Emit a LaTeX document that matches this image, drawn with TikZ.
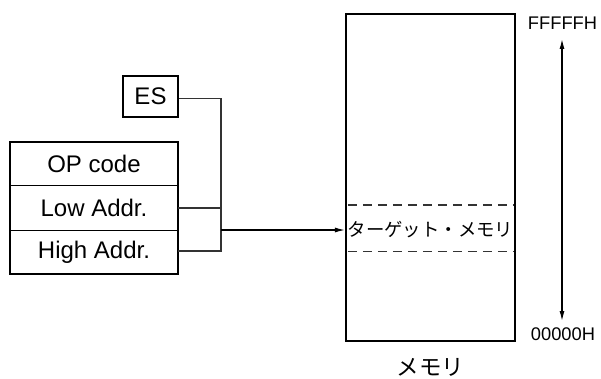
\documentclass[tikz,border=0pt]{standalone}
\usepackage{fontspec}
\setmainfont{Liberation Sans}
\newfontfamily\jp{Noto Sans CJK JP}
\usetikzlibrary{arrows.meta}
\definecolor{conn}{HTML}{333333}
\tikzset{
  regbox/.style={draw=black, line width=2.2pt, inner sep=0pt, font=\fontsize{24}{26}\selectfont},
  cell/.style={inner sep=0pt, minimum width=168, font=\fontsize{24}{26}\selectfont},
  wire/.style={draw=conn, line width=1.2pt},
  tip/.style={-{Latex[length=10pt,width=5pt]}},
  addr/.style={font=\fontsize{18.3}{20}\selectfont, inner sep=0pt},
}
\begin{document}
\begin{tikzpicture}[x=1pt,y=-1pt]
\useasboundingbox (0,0) rectangle (601,379);
% ES register
\node[regbox, minimum width=55.6, minimum height=41] (es) at (150.5,96.2) {ES};
% instruction box
\node[cell, minimum height=43] (op) at (94,164) {OP code};
\node[cell, minimum height=45] (low) at (94,208) {Low Addr.};
\node[cell, minimum height=43.5] (high) at (94,252.2) {High Addr.};
\draw[line width=1.2pt] (op.south west) -- (op.south east);
\draw[line width=1.2pt] (low.south west) -- (low.south east);
\draw[line width=2.2pt] (op.north west) rectangle (high.south east);
% junction coordinates
\coordinate (jes) at (221,98.3);
\coordinate (jlow) at (221,208);
\coordinate (jhigh) at (221,251);
\coordinate (jmid) at (221,230);
\draw[wire] (es.east |- jes) -- (jes) -- (jhigh) -- (high.east |- jhigh);
\draw[wire] (low.east |- jlow) -- (jlow);
% memory
\node[draw=black, line width=2.2pt, minimum width=169, minimum height=327, inner sep=0pt] (mem) at (430.5,177.5) {};
\node[font=\jp\fontsize{18.4}{20}\selectfont, inner sep=0pt] (tgt) at (430.5,230) {ターゲット・メモリ};
\draw[wire, dashed, dash pattern=on 9pt off 6pt] ([xshift=3pt]mem.west |- 0,205) -- ([xshift=-3pt]mem.east |- 0,205);
\draw[wire, dashed, dash pattern=on 9pt off 6pt] ([xshift=3pt]mem.west |- 0,251.7) -- ([xshift=-3pt]mem.east |- 0,251.7);
\draw[wire, draw=black, tip] (jmid) -- (mem.west |- jmid);
\node[font=\jp\fontsize{22.5}{24}\selectfont, inner sep=0pt] (memlabel) at (430.5,367) {メモリ};
% address range
\node[addr] (ftop) at (562.5,23) {FFFFFH};
\node[addr] (fbot) at (563,334) {00000H};
\coordinate (atop) at (562,39);
\coordinate (abot) at (562,321);
\draw[line width=1.2pt, {Latex[length=10pt,width=5pt]}-{Latex[length=10pt,width=5pt]}] (atop) -- (abot);
\end{tikzpicture}
\end{document}
